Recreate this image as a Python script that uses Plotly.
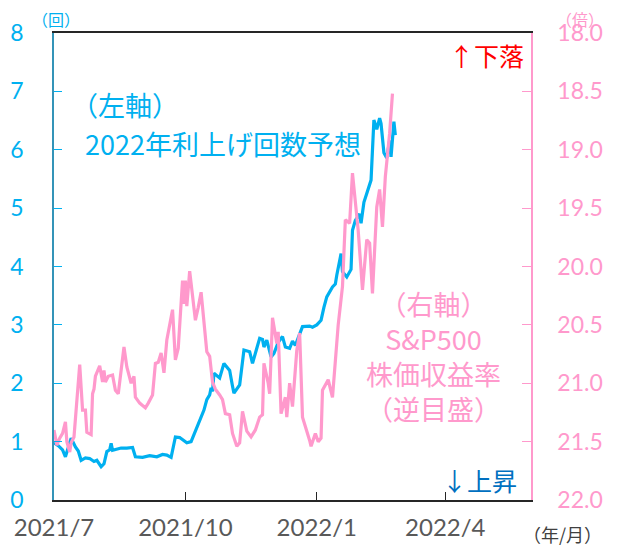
import plotly.graph_objects as go

# 2022年利上げ回数予想 (left axis, 回)
hike_dates = [
    "2021-07-01", "2021-07-04", "2021-07-07", "2021-07-09", "2021-07-11", "2021-07-13",
    "2021-07-16", "2021-07-18", "2021-07-20", "2021-07-23", "2021-07-26", "2021-07-29",
    "2021-07-31", "2021-08-03", "2021-08-05", "2021-08-07", "2021-08-09", "2021-08-10",
    "2021-08-11", "2021-08-13", "2021-08-17", "2021-08-21", "2021-08-25", "2021-08-27",
    "2021-09-01", "2021-09-06", "2021-09-11", "2021-09-15", "2021-09-18", "2021-09-21",
    "2021-09-24", "2021-09-27", "2021-10-02", "2021-10-05", "2021-10-09", "2021-10-11",
    "2021-10-13", "2021-10-14", "2021-10-16", "2021-10-18", "2021-10-19", "2021-10-20",
    "2021-10-21", "2021-10-25", "2021-10-28", "2021-11-01", "2021-11-03", "2021-11-04",
    "2021-11-08", "2021-11-11", "2021-11-15", "2021-11-17", "2021-11-20", "2021-11-22",
    "2021-11-24", "2021-11-25", "2021-11-27", "2021-11-30", "2021-12-02", "2021-12-05",
    "2021-12-08", "2021-12-10", "2021-12-13", "2021-12-15", "2021-12-17", "2021-12-20",
    "2021-12-22", "2021-12-27", "2021-12-29", "2022-01-01", "2022-01-04", "2022-01-06",
    "2022-01-08", "2022-01-12", "2022-01-14", "2022-01-15", "2022-01-18", "2022-01-19",
    "2022-01-22", "2022-01-25", "2022-01-26", "2022-01-28", "2022-01-31", "2022-02-01",
    "2022-02-03", "2022-02-05", "2022-02-08", "2022-02-10", "2022-02-12", "2022-02-14",
    "2022-02-15", "2022-02-17", "2022-02-19", "2022-02-21", "2022-02-22", "2022-02-24",
    "2022-02-25",
]
hike_counts = [
    0.98, 0.93, 0.86, 0.74, 0.90, 1.06,
    0.91, 0.84, 0.68, 0.72, 0.71, 0.66,
    0.68, 0.57, 0.62, 0.83, 0.86, 0.97,
    0.85, 0.86, 0.89, 0.89, 0.90, 0.74,
    0.73, 0.76, 0.74, 0.78, 0.77, 0.73,
    1.08, 1.07, 0.98, 1.00, 1.25, 1.34,
    1.48, 1.54, 1.72, 1.80, 1.92, 1.86,
    2.17, 2.09, 2.34, 2.22, 1.95, 1.83,
    1.97, 2.57, 2.54, 2.34, 2.60, 2.77,
    2.75, 2.62, 2.74, 2.45, 2.51, 2.70,
    2.80, 2.62, 2.60, 2.72, 2.65, 2.85,
    2.97, 2.98, 2.96, 3.00, 3.08, 3.30,
    3.48, 3.65, 3.70, 3.85, 4.22, 3.91,
    3.82, 3.95, 4.62, 4.79, 4.90, 4.74,
    5.10, 5.25, 5.48, 6.51, 6.35, 6.54,
    6.45, 5.95, 5.86, 6.16, 5.88, 6.48,
    6.25,
]

# S&P500 株価収益率 (right axis, 倍, reversed)
per_dates = [
    "2021-07-01", "2021-07-03", "2021-07-05", "2021-07-07", "2021-07-09", "2021-07-10",
    "2021-07-12", "2021-07-13", "2021-07-15", "2021-07-17", "2021-07-19", "2021-07-21",
    "2021-07-23", "2021-07-24", "2021-07-27", "2021-07-28", "2021-07-29", "2021-07-30",
    "2021-08-01", "2021-08-02", "2021-08-04", "2021-08-05", "2021-08-06", "2021-08-08",
    "2021-08-11", "2021-08-13", "2021-08-15", "2021-08-19", "2021-08-21", "2021-08-24",
    "2021-08-25", "2021-08-26", "2021-08-27", "2021-08-30", "2021-09-01", "2021-09-03",
    "2021-09-05", "2021-09-08", "2021-09-10", "2021-09-12", "2021-09-14", "2021-09-16",
    "2021-09-18", "2021-09-22", "2021-09-24", "2021-09-26", "2021-09-29", "2021-09-30",
    "2021-10-01", "2021-10-02", "2021-10-04", "2021-10-08", "2021-10-10", "2021-10-12",
    "2021-10-16", "2021-10-18", "2021-10-20", "2021-10-22", "2021-10-25", "2021-10-27",
    "2021-10-29", "2021-11-01", "2021-11-03", "2021-11-06", "2021-11-08", "2021-11-10",
    "2021-11-13", "2021-11-16", "2021-11-19", "2021-11-22", "2021-11-24", "2021-11-25",
    "2021-11-28", "2021-11-29", "2021-12-01", "2021-12-04", "2021-12-05", "2021-12-07",
    "2021-12-10", "2021-12-11", "2021-12-13", "2021-12-15", "2021-12-18", "2021-12-20",
    "2021-12-22", "2021-12-25", "2021-12-27", "2021-12-28", "2021-12-31", "2022-01-02",
    "2022-01-04", "2022-01-05", "2022-01-09", "2022-01-12", "2022-01-14", "2022-01-16",
    "2022-01-19", "2022-01-21", "2022-01-24", "2022-01-26", "2022-01-30", "2022-02-02",
    "2022-02-05", "2022-02-07", "2022-02-09", "2022-02-12", "2022-02-14", "2022-02-16",
    "2022-02-18", "2022-02-21", "2022-02-23",
]
per_values = [
    21.40, 21.53, 21.47, 21.43, 21.33, 21.50,
    21.59, 21.51, 21.46, 21.14, 20.84, 21.23,
    21.23, 21.42, 21.44, 21.09, 21.05, 20.94,
    20.87, 20.85, 20.99, 20.89, 20.99, 20.94,
    20.93, 21.06, 21.09, 20.69, 20.86, 21.00,
    20.97, 20.94, 21.12, 21.17, 21.19, 21.21,
    21.17, 21.10, 20.83, 20.82, 20.74, 20.91,
    20.63, 20.37, 20.80, 20.70, 20.12, 20.32,
    20.12, 20.34, 20.04, 20.46, 20.35, 20.22,
    20.73, 20.77, 20.99, 21.05, 21.10, 21.14,
    21.26, 21.27, 21.43, 21.54, 21.51, 21.24,
    21.41, 21.46, 21.40, 21.29, 21.27, 20.83,
    21.00, 21.09, 20.44, 20.66, 20.56, 21.26,
    21.12, 21.29, 21.00, 21.20, 20.72, 20.57,
    21.29, 21.40, 21.49, 21.54, 21.43, 21.50,
    21.47, 21.06, 20.97, 21.12, 20.80, 20.50,
    20.17, 19.60, 19.63, 19.20, 19.69, 20.20,
    19.77, 19.80, 20.23, 19.49, 19.34, 19.66,
    19.23, 18.86, 18.52,
]

tick_dates = ["2021-07-01", "2021-10-01", "2022-01-01", "2022-04-01"]
tick_labels = ["2021/7", "2021/10", "2022/1", "2022/4"]

BLUE = "#00b0f0"
PINK = "#ff99cc"
CJK = "Noto Sans CJK JP"
NUM = "Lato"

fig = go.Figure()
fig.add_trace(
    go.Scatter(
        x=hike_dates,
        y=hike_counts,
        mode="lines",
        line={"color": BLUE, "width": 3.2},
        yaxis="y",
        showlegend=False,
    )
)
fig.add_trace(
    go.Scatter(
        x=per_dates,
        y=per_values,
        mode="lines",
        line={"color": PINK, "width": 3.2},
        yaxis="y2",
        showlegend=False,
    )
)

annotations = [
    {"text": "（左軸）", "x": 0.149, "y": 0.846, "color": BLUE, "size": 27},
    {"text": "2022年利上げ回数予想", "x": 0.355, "y": 0.764, "color": BLUE, "size": 27},
    {"text": "（右軸）<br>S&P500<br>株価収益率<br>（逆目盛）", "x": 0.795, "y": 0.309, "color": PINK, "size": 27},
    {"text": "↑下落", "x": 0.907, "y": 0.953, "color": "#ff0000", "size": 25},
    {"text": "↓上昇", "x": 0.893, "y": 0.043, "color": "#0070c0", "size": 25},
    {"text": "（回）", "x": 0.004, "y": 1.03, "color": BLUE, "size": 16},
    {"text": "（倍）", "x": 1.103, "y": 1.03, "color": PINK, "size": 16},
    {"text": "（年/月）", "x": 1.066, "y": -0.073, "color": "#404040", "size": 18},
]
for a in annotations:
    fig.add_annotation(
        text=a["text"],
        x=a["x"],
        y=a["y"],
        xref="paper",
        yref="paper",
        xanchor="center",
        yanchor="middle",
        showarrow=False,
        font={"family": CJK, "size": a["size"], "color": a["color"]},
    )

# page body has an 8px margin, so the figure is shrunk by 8px and shifted
fig.update_layout(
    width=616,
    height=542,
    margin={"l": 46, "r": 93, "t": 25, "b": 50, "autoexpand": False},
    paper_bgcolor="white",
    plot_bgcolor="white",
    showlegend=False,
    xaxis={
        "type": "date",
        "range": ["2021-07-01", "2022-05-31"],
        "tickvals": tick_dates,
        "ticktext": tick_labels,
        "ticks": "inside",
        "ticklen": 8,
        "tickcolor": "#262626",
        "showgrid": False,
        "zeroline": False,
        "showline": True,
        "linecolor": "#262626",
        "linewidth": 1.5,
        "mirror": True,
        "automargin": False,
        "tickfont": {"family": NUM, "size": 24, "color": "#595959"},
        "ticklabelstandoff": 5,
    },
    yaxis={
        "range": [0, 8],
        "dtick": 1,
        "ticks": "inside",
        "ticklen": 8,
        "tickcolor": BLUE,
        "showgrid": False,
        "zeroline": False,
        "showline": True,
        "linecolor": "#3494b8",
        "linewidth": 1.5,
        "automargin": False,
        "tickfont": {"family": NUM, "size": 23, "color": BLUE},
        "ticklabelstandoff": 24,
    },
    yaxis2={
        "overlaying": "y",
        "side": "right",
        "range": [22, 18],
        "dtick": 0.5,
        "tickformat": ".1f",
        "ticks": "inside",
        "ticklen": 9,
        "tickcolor": PINK,
        "showgrid": False,
        "zeroline": False,
        "showline": True,
        "linecolor": PINK,
        "linewidth": 1.5,
        "automargin": False,
        "tickfont": {"family": NUM, "size": 23, "color": PINK},
        "ticklabelstandoff": 20,
    },
)

fig.write_html("out.html")
